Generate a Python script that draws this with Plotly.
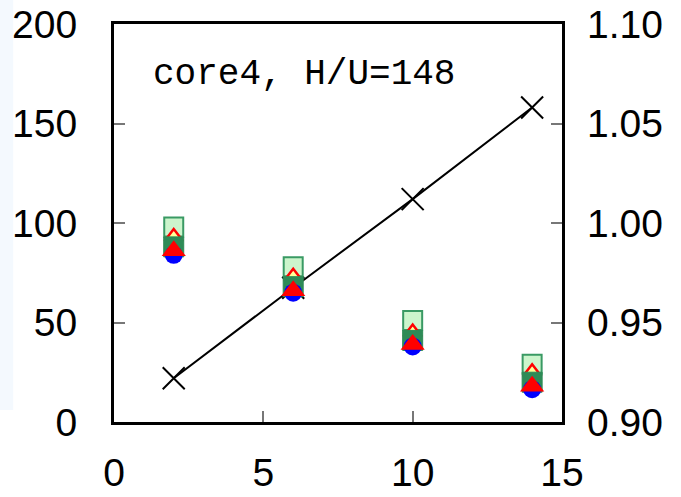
import plotly.graph_objects as go

x = [2, 6, 10, 14]
light_sq = [98, 78, 51, 29]
yellow_tri = [93, 73, 45, 25]
dark_sq = [88, 68, 41, 20]
blue_circ = [84, 65, 38, 16.5]
red_tri = [86, 66, 39, 18]
cross = [22, 67.5, 112, 158]

fig = go.Figure()
fig.add_trace(go.Scatter(x=x, y=cross, mode="lines+markers",
                         line=dict(color="black", width=2),
                         marker=dict(symbol="x-thin", size=22, line=dict(color="black", width=2))))
fig.add_trace(go.Scatter(x=x, y=light_sq, mode="markers",
                         marker=dict(symbol="square", size=19, color="#ccf5cc",
                                     line=dict(color="#3a9a64", width=2))))
fig.add_trace(go.Scatter(x=x, y=yellow_tri, mode="markers",
                         marker=dict(symbol="triangle-up", size=16, color="#ffff99",
                                     line=dict(color="red", width=2.5))))
fig.add_trace(go.Scatter(x=x, y=dark_sq, mode="markers",
                         marker=dict(symbol="square", size=20, color="#2e8b57",
                                     line=dict(color="#2e8b57", width=1))))
fig.add_trace(go.Scatter(x=x, y=blue_circ, mode="markers",
                         marker=dict(symbol="circle", size=18, color="blue",
                                     line=dict(width=0))))
fig.add_trace(go.Scatter(x=x, y=red_tri, mode="markers",
                         marker=dict(symbol="triangle-up", size=21, color="red",
                                     line=dict(width=0))))
fig.add_trace(go.Scatter(x=[None], y=[None], yaxis="y2", showlegend=False))

tickfont = dict(family="Liberation Sans, Arial", size=39, color="black")
fig.update_layout(
    width=681, height=497,
    margin=dict(l=114, r=119, t=24, b=75),
    paper_bgcolor="white", plot_bgcolor="white",
    showlegend=False,
    xaxis=dict(range=[0, 15], tickvals=[0, 5, 10, 15], showgrid=False, zeroline=False,
               showline=True, linecolor="black", linewidth=3, mirror=True,
               ticks="inside", ticklen=11, tickwidth=2, tickcolor="#777777",
               tickfont=tickfont, ticklabelstandoff=14, automargin=False),
    yaxis=dict(range=[0, 200], tickvals=[0, 50, 100, 150, 200], showgrid=False, zeroline=False,
               showline=True, linecolor="black", linewidth=3, mirror=True,
               ticks="inside", ticklen=11, tickwidth=2, tickcolor="#777777",
               tickfont=tickfont, ticklabelstandoff=26, automargin=False),
    yaxis2=dict(range=[0.90, 1.10], tickvals=[0.90, 0.95, 1.00, 1.05, 1.10],
                ticktext=["0.90", "0.95", "1.00", "1.05", "1.10"],
                overlaying="y", side="right", showgrid=False, zeroline=False,
                showline=False, ticks="inside", ticklen=11, tickwidth=2, tickcolor="#777777",
                tickfont=tickfont, ticklabelstandoff=24, automargin=False),
    shapes=[dict(type="rect", xref="paper", yref="paper", x0=-0.255, x1=-0.225, y0=0.03, y1=1.06,
                 fillcolor="#f4f9fe", line=dict(width=0), layer="below")],
    annotations=[dict(x=0.082, y=0.872, xref="paper", yref="paper", xanchor="left", yanchor="middle",
                      text="core4, H/U=148", showarrow=False,
                      font=dict(family="Liberation Mono", size=36, color="black"))],
)
fig.write_html("out.html")
